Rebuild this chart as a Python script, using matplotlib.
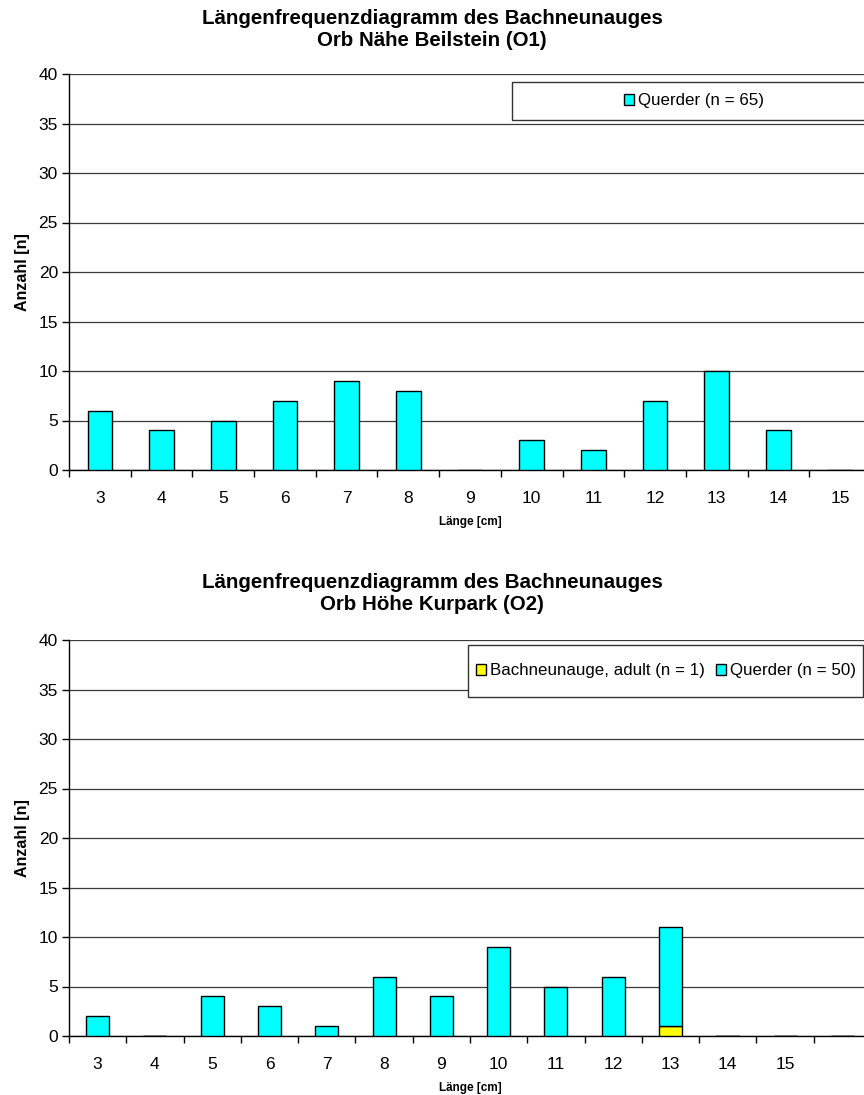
import matplotlib
matplotlib.use('Agg')
import matplotlib.pyplot as plt
from matplotlib.patches import Rectangle, Patch

plt.rcParams['font.family'] = ['Liberation Sans', 'DejaVu Sans']

# Station O1
laenge_o1 = ['3', '4', '5', '6', '7', '8', '9', '10', '11', '12', '13', '14', '15']
querder_o1 = [6, 4, 5, 7, 9, 8, 0, 3, 2, 7, 10, 4, 0]

# Station O2 (one empty category at the end)
laenge_o2 = ['3', '4', '5', '6', '7', '8', '9', '10', '11', '12', '13', '14', '15', '']
querder_o2 = [2, 0, 4, 3, 1, 6, 4, 9, 5, 6, 10, 0, 0, 0]
adult_o2 = [0, 0, 0, 0, 0, 0, 0, 0, 0, 0, 1, 0, 0, 0]

titel_o1 = 'Längenfrequenzdiagramm des Bachneunauges\nOrb Nähe Beilstein (O1)'
titel_o2 = 'Längenfrequenzdiagramm des Bachneunauges\nOrb Höhe Kurpark (O2)'

CYAN = '#00FFFF'
YELLOW = '#FFFF00'
W, H = 864, 1095


def setup_axes(ax, labels):
    n = len(labels)
    ax.set_xlim(-0.5, n - 0.5)
    ax.set_ylim(0, 40)
    ax.set_yticks(range(0, 41, 5))
    ax.yaxis.grid(True, color='#3a3a3a', linewidth=0.9)
    ax.set_axisbelow(True)
    for s in ['top', 'right']:
        ax.spines[s].set_visible(False)
    for s in ['left', 'bottom']:
        ax.spines[s].set_linewidth(1.0)
    ax.set_xticks(range(n))
    ax.set_xticklabels(labels)
    ax.set_xticks([i - 0.5 for i in range(n + 1)], minor=True)
    ax.tick_params(axis='x', which='major', length=0, pad=15, labelsize=12.5)
    ax.tick_params(axis='x', which='minor', length=5, width=1, direction='out')
    ax.tick_params(axis='y', length=5, width=1, pad=3, labelsize=12.5)
    ax.set_ylabel('Anzahl [n]', fontsize=11.5, fontweight='bold', labelpad=6)
    ax.set_xlabel('Länge [cm]', fontsize=8.5, fontweight='bold', labelpad=7)


def legend_box(fig, x0, y0, x1, y1):
    # plain rectangular frame in pixel coords (top-left origin)
    fig.patches.append(Rectangle((x0 / W, 1 - y1 / H), (x1 - x0) / W, (y1 - y0) / H,
                                 transform=fig.transFigure, facecolor='white',
                                 edgecolor='#333333', linewidth=1.0, zorder=5))


def main():
    fig = plt.figure(figsize=(W / 100, H / 100), dpi=100)

    # upper chart
    ax1 = fig.add_axes([69 / W, 1 - 470 / H, 802 / W, 396 / H])
    x1 = range(len(laenge_o1))
    ax1.bar(x1, querder_o1, width=0.4, color=CYAN, edgecolor='black', linewidth=1, zorder=3)
    setup_axes(ax1, laenge_o1)
    fig.text(0.5, 1 - 29.5 / H, titel_o1, ha='center', va='center', fontsize=14.8,
             fontweight='bold', linespacing=1.2)
    legend_box(fig, 512, 82, 880, 120)
    fig.legend(handles=[Patch(facecolor=CYAN, edgecolor='black', label='Querder (n = 65)')],
               loc='center', bbox_to_anchor=(694 / W, 1 - 101 / H), frameon=False,
               fontsize=12.2, handlelength=0.6, handleheight=0.6, handletextpad=0.25
               ).set_zorder(6)

    # lower chart
    ax2 = fig.add_axes([69 / W, 1 - 1036 / H, 802 / W, 396 / H])
    x2 = range(len(laenge_o2))
    ax2.bar(x2, adult_o2, width=0.4, color=YELLOW, edgecolor='black', linewidth=1, zorder=3)
    ax2.bar(x2, querder_o2, width=0.4, bottom=adult_o2, color=CYAN, edgecolor='black',
            linewidth=1, zorder=3)
    setup_axes(ax2, laenge_o2)
    fig.text(0.5, 1 - 594 / H, titel_o2, ha='center', va='center', fontsize=14.8,
             fontweight='bold', linespacing=1.2)
    legend_box(fig, 468, 645, 863, 697)
    fig.legend(handles=[Patch(facecolor=YELLOW, edgecolor='black', label='Bachneunauge, adult (n = 1)'),
                        Patch(facecolor=CYAN, edgecolor='black', label='Querder (n = 50)')],
               loc='center', bbox_to_anchor=(666 / W, 1 - 671 / H), frameon=False, ncol=2,
               fontsize=12.2, handlelength=0.6, handleheight=0.6, handletextpad=0.25,
               columnspacing=0.6).set_zorder(6)

    fig.savefig('out.png', dpi=100)


if __name__ == '__main__':
    main()
